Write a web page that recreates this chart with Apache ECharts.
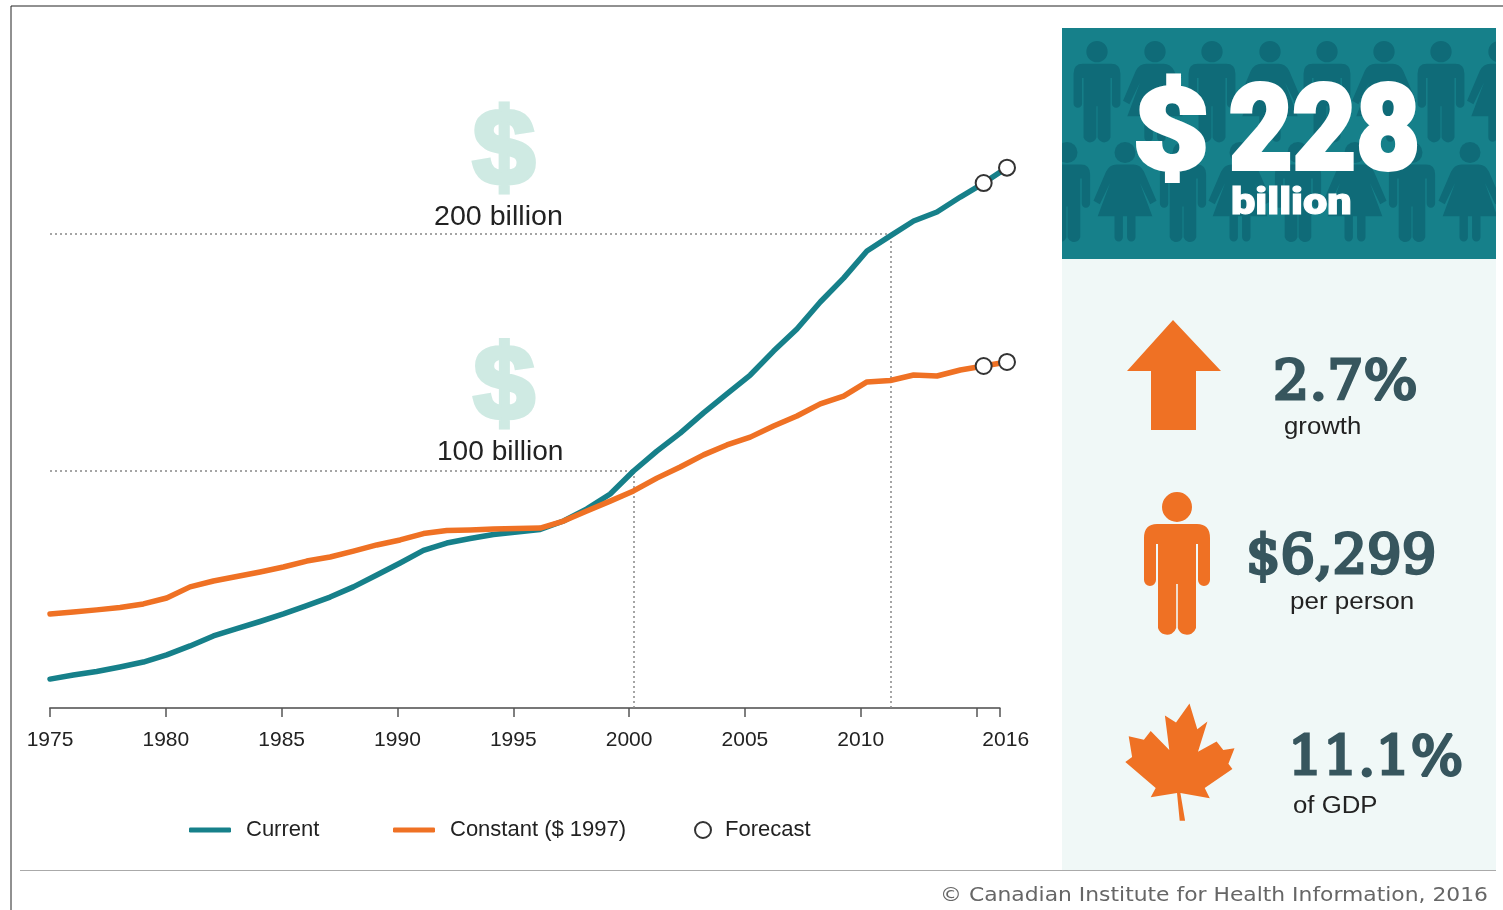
<!DOCTYPE html>
<html><head><meta charset="utf-8">
<style>html,body{margin:0;padding:0;background:#fff}#c{width:1503px;height:910px}</style>
<script src="https://cdn.jsdelivr.net/npm/echarts@6/dist/echarts.min.js"></script>
</head><body><div id="c"></div>
<script>
const years = [1975,1976,1977,1978,1979,1980,1981,1982,1983,1984,1985,1986,1987,1988,1989,1990,1991,1992,1993,1994,1995,1996,1997,1998,1999,2000,2001,2002,2003,2004,2005,2006,2007,2008,2009,2010,2011,2012,2013,2014,2015,2016];
const currentValues = [12.2,13.9,15.4,17.3,19.4,22.4,26.2,30.4,33.5,36.5,39.7,43.2,46.8,51.1,56.1,61.2,66.5,69.6,71.5,73.2,74.3,75.3,78.9,84.0,90.3,100,108.4,116,124.5,132.5,140.5,150.6,159.9,171.3,181.4,192.8,199.2,205.5,209.3,215.6,221.5,228];
const constantValues = [39.7,40.5,41.4,42.4,43.9,46.4,51.1,53.6,55.5,57.4,59.5,62,63.7,66.2,68.8,70.9,73.6,74.9,75.1,75.5,75.7,75.9,78.9,83.1,87.3,91.6,97,101.7,106.8,111,114.3,119,123.2,128.3,131.6,137.6,138.2,140.5,140.1,142.6,144.3,146];
const forecastYears = [2015,2016];
const referenceLines = [[2000,100],[2011,200]];
const TEAL='#16808a', ORANGE='#ef7124', SLATE='#37565e', DARKTEAL='#0f6b78', MINT='#cfeae3', INK='#222';
const SANS='"Liberation Sans",Arial,sans-serif', SERIF='"DejaVu Serif",serif', BLACK='Roboto,"Liberation Sans",sans-serif';

const personPath='M-15,15a15,15 0 1,0 30,0a15,15 0 1,0 -30,0Z M-20,32L20,32Q33,32 33,46L33,88A6,6 0 0 1 21,88L21,52L19,52L19,136A9.5,9.5 0 0 1 0.8,136L0.8,92L-0.8,92L-0.8,136A9.5,9.5 0 0 1 -19,136L-19,52L-21,52L-21,88A6,6 0 0 1 -33,88L-33,46Q-33,32 -20,32Z';
const womanPath='M-15,15a15,15 0 1,0 30,0a15,15 0 1,0 -30,0Z M-12,32L12,32Q22,32 27,42L45,84L36,89L21,58L39,106L15,106L15,136A6,6 0 0 1 3,136L3,106L-3,106L-3,136A6,6 0 0 1 -15,136L-15,106L-39,106L-21,58L-36,89L-45,84L-27,42Q-22,32 -12,32Z';
const leaf=[[265,1170],[288,1245],[318,1222],[290,1310],[345,1280],[365,1305],[398,1300],[380,1345],[392,1360],[310,1415],[325,1445],[238,1430],[252,1510],[236,1510],[228,1430],[150,1442],[165,1415],[75,1340],[95,1325],[85,1265],[130,1275],[150,1250],[205,1305],[192,1205],[225,1225]];
const leafPath='M'+leaf.map(p=>(1100+p[0]/2.96).toFixed(1)+','+(300+p[1]/2.9).toFixed(1)).join('L')+'Z';
echarts.graphic.registerShape('personShape',echarts.graphic.extendPath(personPath,{}));
echarts.graphic.registerShape('womanShape',echarts.graphic.extendPath(womanPath,{}));
echarts.graphic.registerShape('leafShape',echarts.graphic.extendPath(leafPath,{}));

function txt(x,y,text,size,color,font,weight,sx,align,stroke){
  const style={text:text,fontSize:size,fill:color,fontFamily:font,fontWeight:weight||'normal',align:align||'left',verticalAlign:'middle'};
  if(stroke){style.stroke=color;style.lineWidth=stroke;}
  return {type:'text',x:x,y:y,scaleX:sx||1,z:20,silent:true,style:style};
}
function fig(type,x,y,s){return {type:type,x:x,y:y,scaleX:s,scaleY:s,z:11,silent:true,shape:{},style:{fill:DARKTEAL}};}
const crowd=[];
[1097,1212,1327,1441].forEach(x=>crowd.push(fig('personShape',x,41,0.71)));
[1155,1270,1384,1499].forEach(x=>crowd.push(fig('womanShape',x,41,0.71)));
[1067,1183,1298,1412].forEach(x=>crowd.push(fig('personShape',x,142,0.70)));
[1125,1240,1355,1470].forEach(x=>crowd.push(fig('womanShape',x,142,0.70)));

const graphics=[
  {type:'line',z:1,silent:true,shape:{x1:11,y1:6,x2:1503,y2:6},style:{stroke:'#222',lineWidth:1}},
  {type:'line',z:1,silent:true,shape:{x1:11,y1:6,x2:11,y2:910},style:{stroke:'#222',lineWidth:1}},
  {type:'line',z:1,silent:true,shape:{x1:20,y1:870.5,x2:1496,y2:870.5},style:{stroke:'#aaa',lineWidth:1}},
  {type:'rect',z:10,silent:true,shape:{x:1062,y:259,width:434,height:611},style:{fill:'#f0f8f7'}},
  {type:'rect',z:10,silent:true,shape:{x:1062,y:28,width:434,height:231},style:{fill:TEAL}},
  ...crowd,
  {type:'rect',z:12,silent:true,shape:{x:1496,y:20,width:7,height:245},style:{fill:'#fff'}},
  {type:'rect',z:12,silent:true,shape:{x:1040,y:20,width:22,height:245},style:{fill:'#fff'}},
  txt(504,154,'$',108,MINT,SANS,'bold',1.03,'center',5),
  txt(504,390,'$',106,MINT,SANS,'bold',1.03,'center',5),
  txt(434,218,'200 billion',27,INK,SANS,'normal',1.06),
  txt(437,453,'100 billion',27,INK,SANS,'normal',1.04),
  txt(1133,140,'$',114,'#fff',BLACK,900,1.15,'left',4),
  txt(1229,139,'228',118,'#fff',BLACK,900,0.93,'left',4),
  txt(1231,205,'billion',37,'#fff',BLACK,900,1.17,'left',1),
  {type:'polygon',z:11,silent:true,shape:{points:[[1173,320],[1221,371],[1196,371],[1196,430],[1151,430],[1151,371],[1127,371]]},style:{fill:ORANGE}},
  {type:'personShape',x:1177,y:492,z:11,silent:true,shape:{},style:{fill:ORANGE}},
  {type:'leafShape',z:11,silent:true,shape:{},style:{fill:ORANGE}},
  txt(1273,385,'2.7%',54,SLATE,SERIF,'normal',1.055,'left',3),
  txt(1284,428,'growth',23,INK,SANS,'normal',1.12),
  txt(1246,559,'$6,299',54,SLATE,SERIF,'normal',1.007,'left',3),
  txt(1290,603,'per person',23,INK,SANS,'normal',1.13),
  txt(1288,761,'11.1%',54,SLATE,SERIF,'normal',1.02,'left',3),
  txt(1293,807,'of GDP',23,INK,SANS,'normal',1.12),
  txt(1488,896,'© Canadian Institute for Health Information, 2016',19.5,'#666','"DejaVu Sans",sans-serif','normal',1.12,'right')
];

const refLineData=[];
referenceLines.forEach(r=>{
  refLineData.push([{coord:[years[0],r[1]]},{coord:[r[0],r[1]]}]);
  refLineData.push([{coord:[r[0],0]},{coord:[r[0],r[1]]}]);
});
const zip=(xs,ys)=>xs.map((x,i)=>[x,ys[i]]);
const lineSeries=(name,vals,color,extra)=>Object.assign({name:name,type:'line',xAxisIndex:1,yAxisIndex:1,data:zip(years,vals),showSymbol:false,symbol:'none',
  lineStyle:{color:color,width:5.5,cap:'round',join:'round'},itemStyle:{color:color},z:5,clip:false},extra||{});
const fc=(vals)=>({name:'Forecast',type:'scatter',xAxisIndex:1,yAxisIndex:1,symbol:'circle',symbolSize:16,z:7,clip:false,
  data:forecastYears.map(y=>[y,vals[years.indexOf(y)]]),itemStyle:{color:'#fff',borderColor:'#333',borderWidth:2,opacity:1}});
const legendOf=(name,left,w,h,icon)=>({show:true,data:[{name:name,icon:icon}],left:left,top:819,itemWidth:w,itemHeight:h,selectedMode:false,padding:0,
  textStyle:{fontSize:22,color:INK,fontFamily:SANS,padding:[2,0,0,name==='Forecast'?9:10]}});

const chart=echarts.init(document.getElementById('c'),null,{renderer:'canvas'});
chart.setOption({
  animation:false,backgroundColor:'#fff',
  grid:[{left:50,width:949.7,top:115.5,height:592.5},{left:50,width:957,top:115.5,height:592.5}],
  xAxis:[
    {type:'value',gridIndex:0,min:1975,max:2016,interval:5,splitLine:{show:false},
      axisLine:{show:true,lineStyle:{color:'#777',width:2}},
      axisTick:{show:true,length:9,lineStyle:{color:'#555',width:1.5}},
      axisLabel:{show:true,showMinLabel:true,showMaxLabel:true,margin:22,fontSize:21,color:INK,fontFamily:SANS,
        formatter:v=>v===2015?'':(v===2016?'{shift|2016}':String(v)),
        rich:{shift:{padding:[0,0,0,12],fontSize:21,color:INK,fontFamily:SANS}}}},
    {type:'value',gridIndex:1,min:1975,max:2016,show:false,splitLine:{show:false}}
  ],
  yAxis:[
    {type:'value',gridIndex:0,min:0,max:250,show:false,splitLine:{show:false}},
    {type:'value',gridIndex:1,min:0,max:250,show:false,splitLine:{show:false}}
  ],
  legend:[legendOf('Current',189,42,5,'roundRect'),legendOf('Constant ($ 1997)',393,42,5,'roundRect'),legendOf('Forecast',694,16,16,'circle')],
  series:[
    lineSeries('Current',currentValues,TEAL,{markLine:{silent:true,symbol:'none',label:{show:false},lineStyle:{type:[2,3],color:'#888',width:1.5},data:refLineData,z:2}}),
    lineSeries('Constant ($ 1997)',constantValues,ORANGE,{z:6}),
    fc(currentValues),fc(constantValues)
  ],
  graphic:{elements:graphics}
});
</script></body></html>
